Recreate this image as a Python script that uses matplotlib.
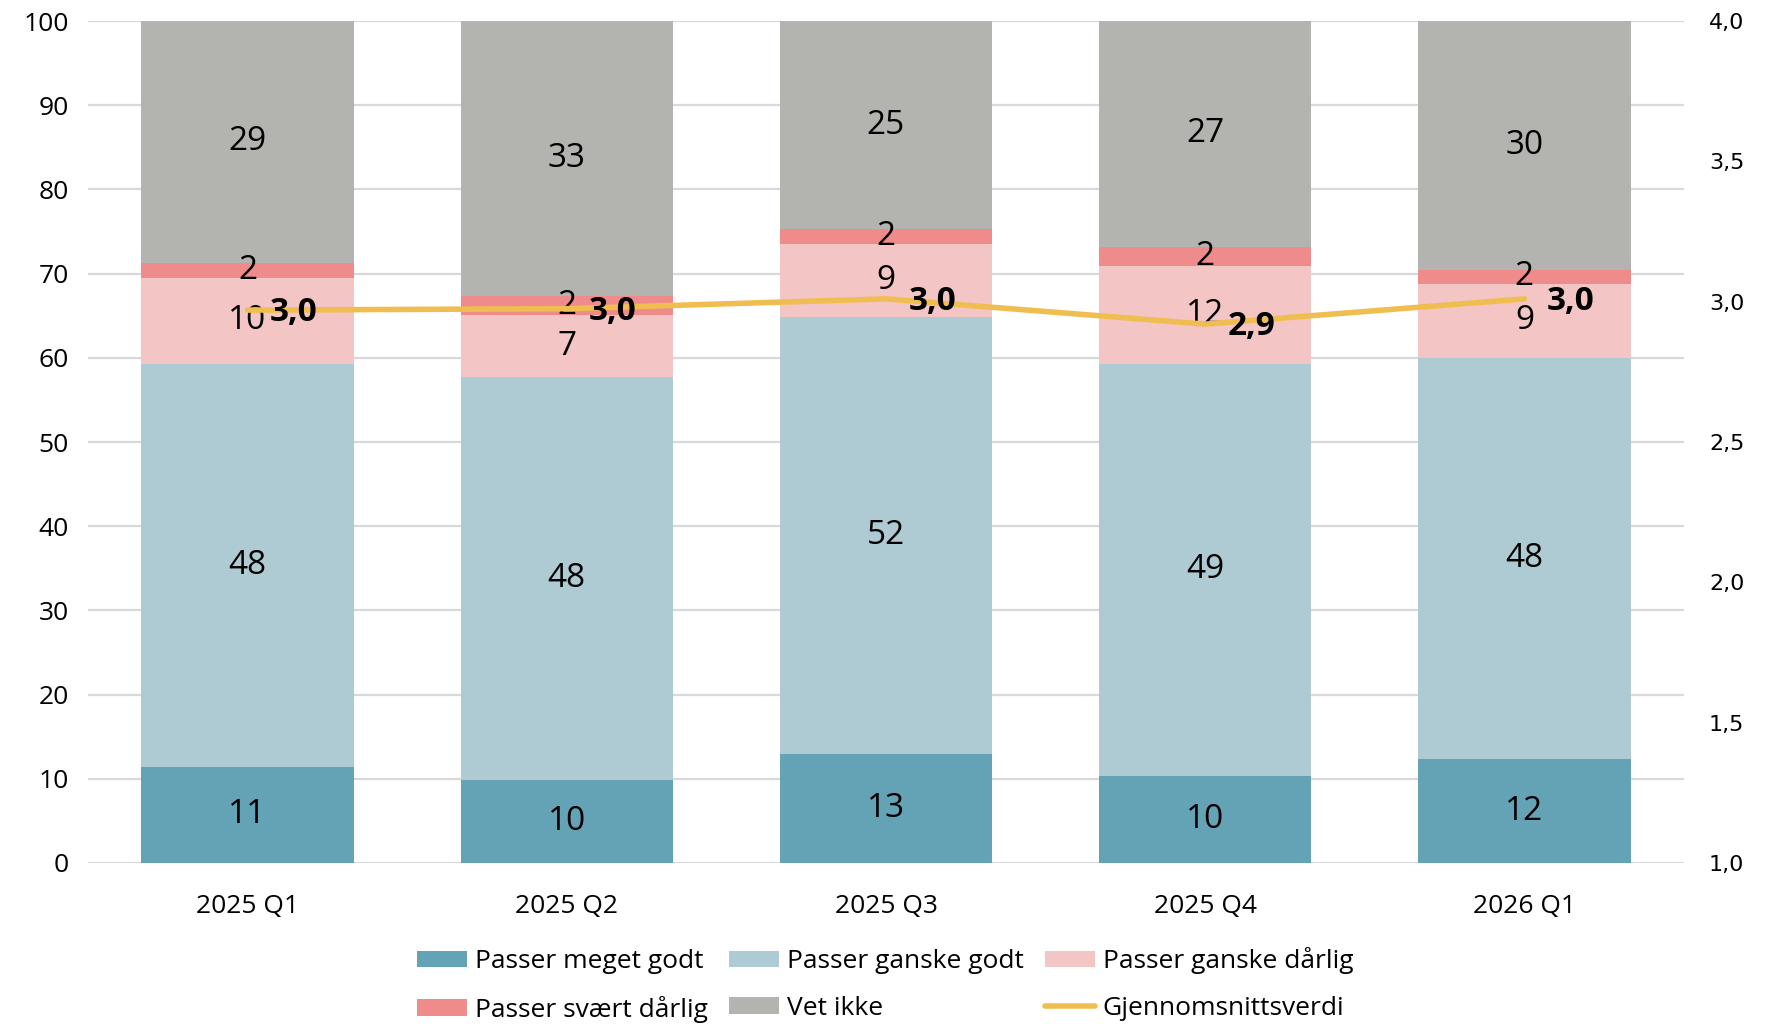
import numpy as np
import matplotlib.pyplot as plt

plt.rcParams['font.family'] = ['Open Sans', 'DejaVu Sans']

quarters = ["2025 Q1", "2025 Q2", "2025 Q3", "2025 Q4", "2026 Q1"]
series_names = ["Passer meget godt", "Passer ganske godt", "Passer ganske dårlig",
                "Passer svært dårlig", "Vet ikke"]
meget_godt = [11.4, 9.8, 12.9, 10.3, 12.3]
ganske_godt = [47.9, 47.9, 51.9, 49.0, 47.7]
ganske_darlig = [10.2, 7.4, 8.7, 11.6, 8.8]
svaert_darlig = [1.8, 2.3, 1.8, 2.3, 1.6]
vet_ikke = [28.7, 32.6, 24.7, 26.8, 29.6]
snitt = [2.97, 2.975, 3.01, 2.92, 3.01]
colors = ["#64a3b5", "#aecad2", "#f3c5c5", "#ef8b8b", "#b3b3af"]
line_color = "#f0be50"

fig = plt.figure(figsize=(17.7, 10.26), dpi=100)
ax = fig.add_axes([0.0497, 0.1589, 0.9017, 0.8206])
x = np.arange(len(quarters))

bottom = np.zeros(len(quarters))
handles = []
for name, vals, c in zip(series_names,
                         [meget_godt, ganske_godt, ganske_darlig, svaert_darlig, vet_ikke],
                         colors):
    vals = np.array(vals)
    bars = ax.bar(x, vals, 0.665, bottom=bottom, color=c, label=name, zorder=2)
    handles.append(bars)
    for xi, b, v in zip(x, bottom, vals):
        ax.text(xi, b + v / 2, str(int(round(v))), ha='center', va='center',
                fontsize=24, color='black', zorder=3)
    bottom += vals

ax.set_xlim(-0.5, len(quarters) - 0.5)
ax.set_ylim(0, 100)
ax.set_yticks(range(0, 101, 10))
ax.grid(axis='y', color='#d9d9d9', linewidth=1.6, zorder=0)
ax.set_axisbelow(True)
for s in ax.spines.values():
    s.set_visible(False)
ax.tick_params(axis='both', length=0, labelsize=19, pad=14)
ax.tick_params(axis='x', pad=22)
ax.set_xticks(x)
ax.set_xticklabels(quarters)

# right axis for the average
ax2 = ax.twinx()
ax2.set_ylim(1, 4)
ax2.set_yticks(np.arange(1, 4.01, 0.5))
ax2.set_yticklabels([f"{t:.1f}".replace('.', ',') for t in np.arange(1, 4.01, 0.5)],
                    family='DejaVu Sans', fontsize=16)
ax2.tick_params(axis='y', length=0, pad=18)
for s in ax2.spines.values():
    s.set_visible(False)
line, = ax2.plot(x, snitt, color=line_color, linewidth=4, solid_capstyle='round',
                 zorder=4, label="Gjennomsnittsverdi")
for xi, v in zip(x, snitt):
    ax2.annotate(f"{v:.1f}".replace('.', ','), (xi, v), xytext=(16, -2),
                 textcoords='offset points', ha='left', va='center',
                 fontsize=24, fontweight='bold', zorder=5)

h = handles + [line]
order = [0, 3, 1, 4, 2, 5]
fig.legend([h[i] for i in order], [h[i].get_label() for i in order],
           loc='center', bbox_to_anchor=(0.5, 0.04), ncol=3, frameon=False,
           fontsize=19, handlelength=1.9, handleheight=0.6, handletextpad=0.3,
           columnspacing=0.8, labelspacing=0.8, borderpad=0.2)

fig.savefig("out.png", dpi=100)
